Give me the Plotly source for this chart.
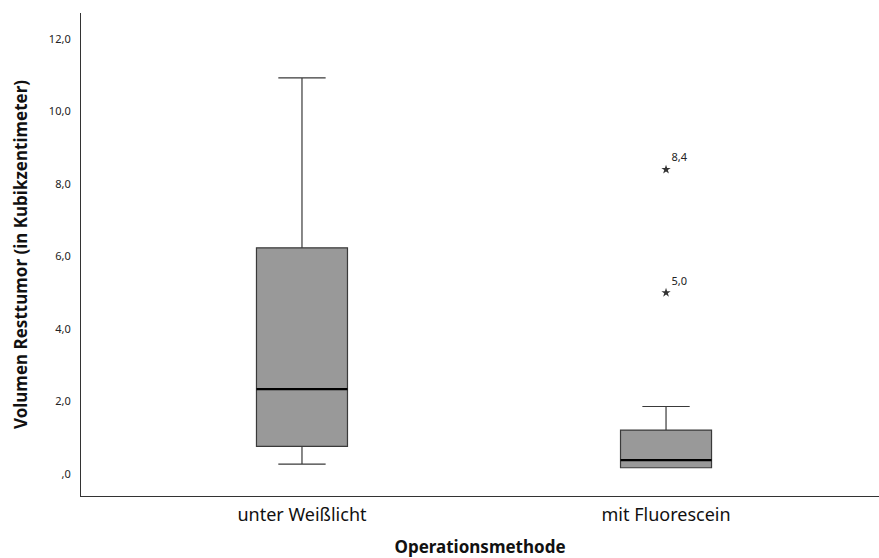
import plotly.graph_objects as go

# Residual tumour volume by surgical method (summary statistics, cm³)
methods = ["unter Weißlicht", "mit Fluorescein"]
lower_fence = [0.27, 0.17]
q1 = [0.76, 0.17]
median = [2.34, 0.38]
q3 = [6.24, 1.21]
upper_fence = [10.93, 1.86]

# Extreme values of the fluorescein group
outlier_method = ["mit Fluorescein", "mit Fluorescein"]
outlier_values = [8.4, 5.0]
outlier_labels = ["8,4", "5,0"]

y_ticks = [0, 2, 4, 6, 8, 10, 12]
y_tick_labels = [",0", "2,0", "4,0", "6,0", "8,0", "10,0", "12,0"]

FONT = "Noto Sans"
pos = {m: i for i, m in enumerate(methods)}

fig = go.Figure()

fig.add_trace(go.Box(
    x=[pos[m] for m in methods],
    q1=q1, median=median, q3=q3,
    lowerfence=lower_fence, upperfence=upper_fence,
    width=0.25,
    whiskerwidth=0.52,
    fillcolor="#999999",
    line=dict(color="#3a3a3a", width=1.2),
    boxpoints=False,
    hoverinfo="skip",
    showlegend=False,
))

# Heavier median bars
for i, m in enumerate(methods):
    fig.add_trace(go.Scatter(
        x=[pos[m] - 0.125, pos[m] + 0.125],
        y=[median[i], median[i]],
        mode="lines",
        line=dict(color="#000000", width=2.4),
        hoverinfo="skip",
        showlegend=False,
    ))

fig.add_trace(go.Scatter(
    x=[pos[m] for m in outlier_method],
    y=outlier_values,
    mode="markers+text",
    marker=dict(symbol="star", size=7, color="#333333"),
    text=outlier_labels,
    textposition="top right",
    textfont=dict(family=FONT, size=11, color="#222222"),
    hoverinfo="skip",
    showlegend=False,
))

fig.update_layout(
    width=879, height=558,
    margin=dict(l=81, r=0, t=13, b=62),
    paper_bgcolor="white",
    plot_bgcolor="white",
    font=dict(family=FONT, color="#111111"),
    xaxis=dict(
        range=[-0.607, 1.585],
        tickvals=[pos[m] for m in methods],
        ticktext=methods,
        tickfont=dict(family=FONT, size=18, color="#111111"),
        showgrid=False, zeroline=False,
        showline=True, linecolor="#333333", linewidth=1.2,
        ticks="", ticklabelstandoff=2,
        title=dict(text="<b>Operationsmethode</b>",
                   font=dict(family=FONT, size=17, color="#111111"),
                   standoff=17),
    ),
    yaxis=dict(
        range=[-0.61, 12.72],
        tickvals=y_ticks,
        ticktext=y_tick_labels,
        tickfont=dict(family=FONT, size=11, color="#222222"),
        showgrid=False, zeroline=False,
        showline=True, linecolor="#333333", linewidth=1.2,
        ticks="", ticklabelstandoff=7,
        title=dict(text="<b>Volumen Resttumor (in Kubikzentimeter)</b>",
                   font=dict(family=FONT, size=17, color="#111111"),
                   standoff=16),
    ),
)

fig.write_html("out.html")
